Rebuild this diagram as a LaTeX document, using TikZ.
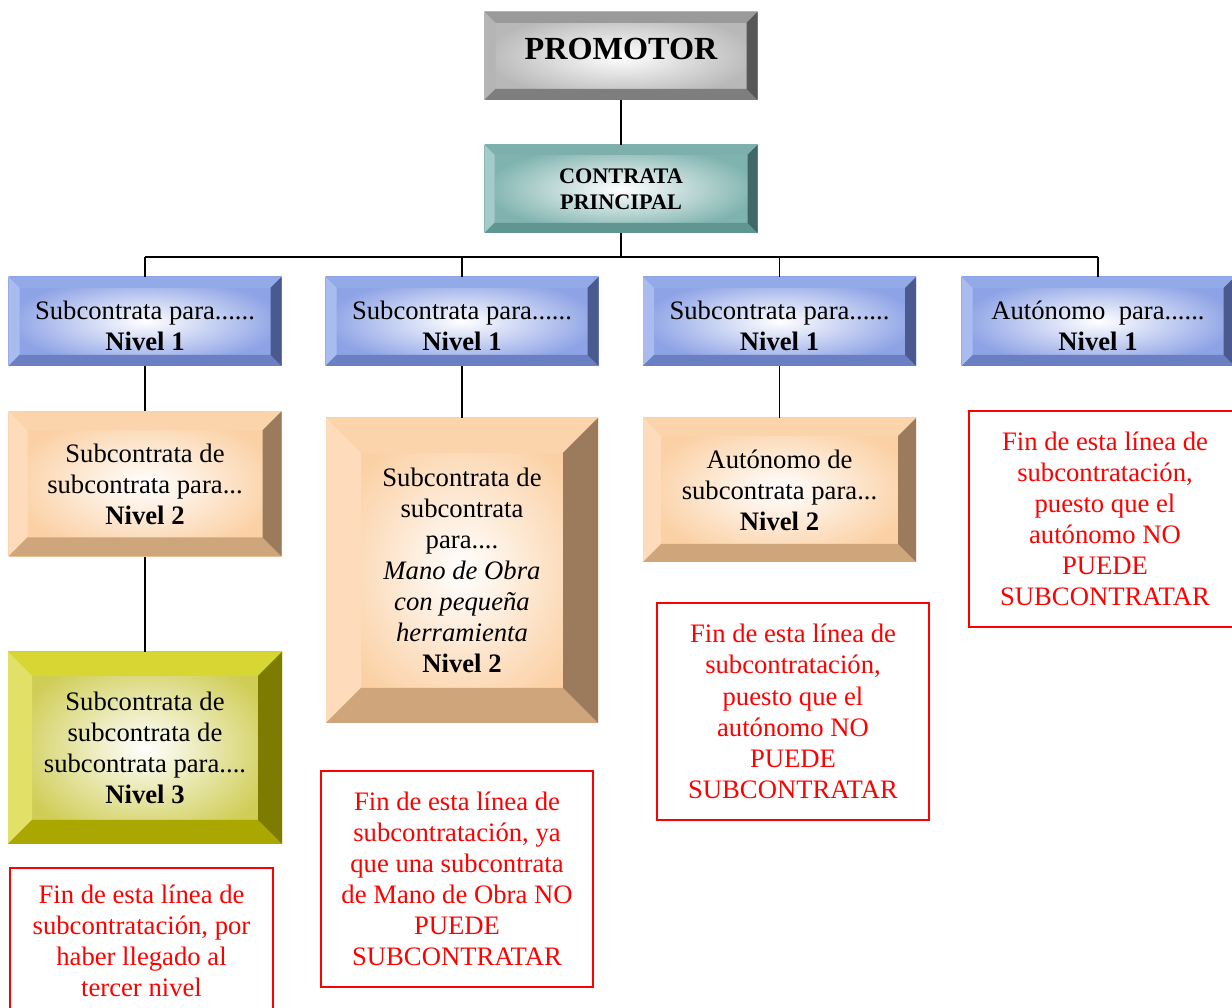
\documentclass[tikz,border=0pt]{standalone}
\usepackage{fontspec}
\setmainfont{Liberation Serif}
\usetikzlibrary{calc}

\definecolor{grayT}{HTML}{9A9A9A}
\definecolor{grayL}{HTML}{B4B4B4}
\definecolor{grayB}{HTML}{7E7E7E}
\definecolor{grayR}{HTML}{575757}
\definecolor{grayI}{HTML}{B8B8B8}
\definecolor{tealT}{HTML}{7DB0AC}
\definecolor{tealL}{HTML}{A3CBC8}
\definecolor{tealB}{HTML}{5F9692}
\definecolor{tealR}{HTML}{3F6866}
\definecolor{tealI}{HTML}{7FB3AF}
\definecolor{blueT}{HTML}{93AAE9}
\definecolor{blueL}{HTML}{A8BCF0}
\definecolor{blueB}{HTML}{6B80C3}
\definecolor{blueR}{HTML}{4A5A8E}
\definecolor{blueI}{HTML}{8EA3E6}
\definecolor{oranT}{HTML}{FCD4AC}
\definecolor{oranL}{HTML}{FDDBBB}
\definecolor{oranB}{HTML}{CFA57C}
\definecolor{oranR}{HTML}{9C7B5D}
\definecolor{oranI}{HTML}{FBD0A4}
\definecolor{yellT}{HTML}{D8D632}
\definecolor{yellL}{HTML}{E2E067}
\definecolor{yellB}{HTML}{AAA700}
\definecolor{yellR}{HTML}{7E7C00}
\definecolor{yellI}{HTML}{CFCD55}

\newcommand\px{0.45pt}

\tikzset{
  every node/.style={font=\fontsize{12}{14}\selectfont, align=center},
  bevel/.store in=\bev, bevel=10,
  tile/.style={minimum width=273*\px, inner sep=0pt,
    inner color=white, outer color=#1I,
    path picture={
      \coordinate (nw) at (path picture bounding box.north west);
      \coordinate (ne) at (path picture bounding box.north east);
      \coordinate (sw) at (path picture bounding box.south west);
      \coordinate (se) at (path picture bounding box.south east);
      \coordinate (inw) at ($(nw)+(\bev*\px,-\bev*\px)$);
      \coordinate (ine) at ($(ne)+(-\bev*\px,-\bev*\px)$);
      \coordinate (isw) at ($(sw)+(\bev*\px,\bev*\px)$);
      \coordinate (ise) at ($(se)+(-\bev*\px,\bev*\px)$);
      \fill[#1T] (nw) -- (ne) -- (ine) -- (inw) -- cycle;
      \fill[#1L] (nw) -- (inw) -- (isw) -- (sw) -- cycle;
      \fill[#1B] (sw) -- (isw) -- (ise) -- (se) -- cycle;
      \fill[#1R] (ne) -- (se) -- (ise) -- (ine) -- cycle;
    }},
  level1/.style={tile=blue, bevel=11, minimum height=89*\px, text height=26.2pt},
  warn/.style={draw=red, line width=0.8pt, text=red,
    minimum width=272*\px, minimum height=216*\px},
  link/.style={line width=0.8pt}
}

\begin{document}
\begin{tikzpicture}[x=\px, y=-\px]

\useasboundingbox (0,0) rectangle (1232,1008);
\clip (0,0) rectangle (1232,1008);

% top of the chart
\node[tile=gray, bevel=11, minimum height=88*\px, text depth=6.3pt,
  font=\fontsize{14.5}{16}\selectfont\bfseries] (prom) at (621,56) {PROMOTOR};
\node[tile=teal, minimum height=88*\px, font=\fontsize{10}{11.7}\selectfont\bfseries]
  (contr) at (621,189) {CONTRATA\\PRINCIPAL};

% level 1
\node[level1] (n1a) at (145,321.5) {Subcontrata para......\\\textbf{Nivel 1}};
\node[level1] (n1b) at (462,321.5) {Subcontrata para......\\\textbf{Nivel 1}};
\node[level1] (n1c) at (779.5,321.5) {Subcontrata para......\\\textbf{Nivel 1}};
\node[level1] (n1d) at (1098,321.5) {Autónomo\ \ para......\\\textbf{Nivel 1}};

% level 2
\node[tile=oran, bevel=19, minimum height=145*\px] (o2a) at (145,484)
  {Subcontrata de\\subcontrata para...\\\textbf{Nivel 2}};
\node[tile=oran, bevel=35, minimum width=272*\px, minimum height=305*\px] (o2b) at (462,570.5)
  {Subcontrata de\\subcontrata\\para....\\\textit{Mano de Obra}\\\textit{con pequeña}\\\textit{herramienta}\\\textbf{Nivel 2}};
\node[tile=oran, bevel=18, minimum height=144*\px] (o2c) at (779.5,490)
  {Autónomo de\\subcontrata para...\\\textbf{Nivel 2}};

% level 3
\node[tile=yell, bevel=24, minimum width=274*\px, minimum height=192*\px] (y3) at (145,748)
  {Subcontrata de\\subcontrata de\\subcontrata para....\\\textbf{Nivel 3}};

% end of each line
\node[warn, minimum width=263*\px, minimum height=146*\px] (r1) at (141.5,941)
  {Fin de esta línea de\\subcontratación, por\\haber llegado al\\tercer nivel};
\node[warn] (r2) at (457,879)
  {Fin de esta línea de\\subcontratación, ya\\que una subcontrata\\de Mano de Obra NO\\PUEDE\\SUBCONTRATAR};
\node[warn, minimum height=217*\px] (r3) at (793,711.5)
  {Fin de esta línea de\\subcontratación,\\puesto que el\\autónomo NO\\PUEDE\\SUBCONTRATAR};
\node[warn] (r4) at (1105,519)
  {Fin de esta línea de\\subcontratación,\\puesto que el\\autónomo NO\\PUEDE\\SUBCONTRATAR};

% connectors
\coordinate (bus) at (0,257);
\draw[link] (prom) -- (contr);
\draw[link] (contr) -- (contr |- bus);
\draw[link] (n1a |- bus) -- (n1d |- bus);
\foreach \n in {n1a,n1b,n1c,n1d}
  \draw[link] (\n |- bus) -- (\n);
\draw[link] (n1a) -- (o2a);
\draw[link] (o2a) -- (y3);
\draw[link] (n1b) -- (o2b);
\draw[link] (n1c) -- (o2c);

\end{tikzpicture}
\end{document}
